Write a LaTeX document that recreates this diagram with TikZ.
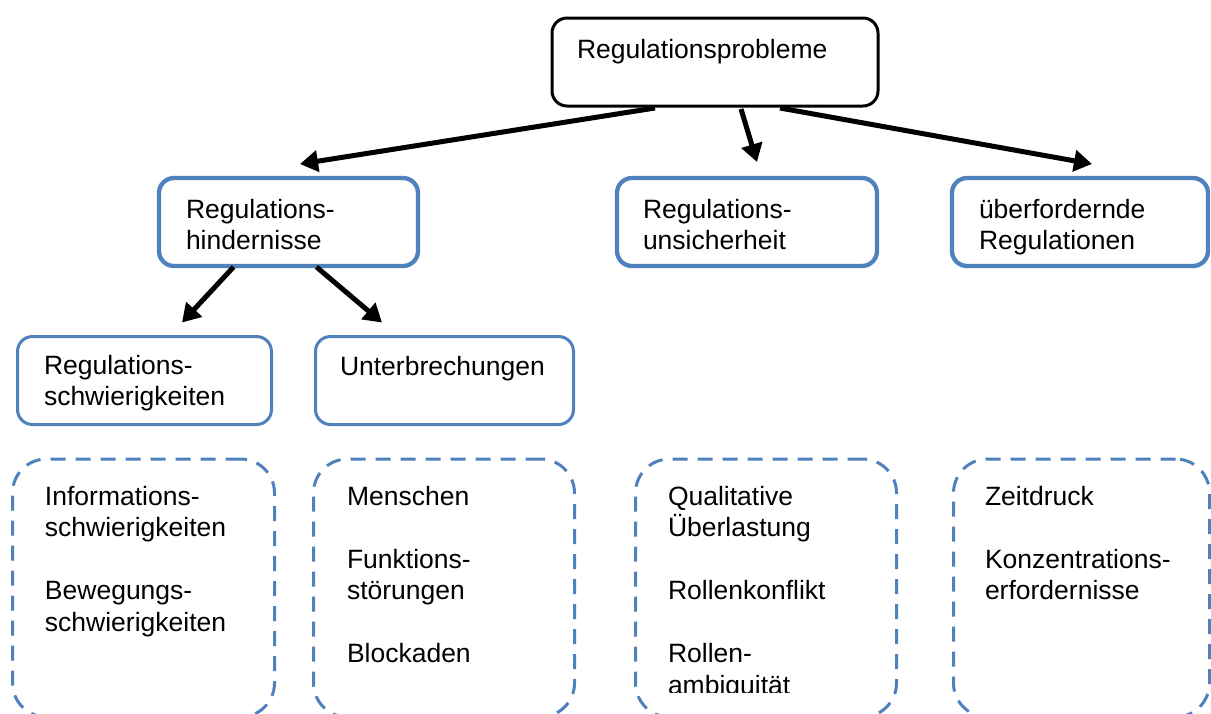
\documentclass[tikz,border=0pt]{standalone}
\usepackage{fontspec}
\setmainfont{Liberation Sans}
\usetikzlibrary{arrows.meta,calc}
\definecolor{boxblue}{HTML}{4F81BD}
\begin{document}
\begin{tikzpicture}[x=1pt,y=-1pt,
  every node/.style={inner sep=0pt,outer sep=0pt},
  boxbase/.style={rectangle,minimum height=88pt},
  topbox/.style={boxbase,draw=black,line width=3pt,rounded corners=15pt},
  midbox/.style={boxbase,draw=boxblue,line width=4.3pt,rounded corners=15pt},
  lowbox/.style={boxbase,draw=boxblue,line width=3pt,rounded corners=15pt},
  dashbox/.style={rectangle,draw=boxblue,line width=3pt,rounded corners=34pt,
     dash pattern=on 15pt off 10pt,minimum height=258pt},
  txt/.style={anchor=base west,align=left,
     font=\fontsize{26.5pt}{31.5pt}\selectfont},
  arr/.style={line width=5pt,-{Triangle[length=18pt,width=21pt]}}
]
\useasboundingbox (0,0) rectangle (1211,713);
\clip (0,0) rectangle (1211,713);
\fill[white] (0,0) rectangle (1211,713);

% boxes
\node[topbox,minimum width=326pt] (top) at (715,62) {};
\node[midbox,minimum width=259pt] (hind) at (288.5,222) {};
\node[midbox,minimum width=260pt] (unsi) at (747,222) {};
\node[midbox,minimum width=256pt] (ueber) at (1080,222) {};
\node[lowbox,minimum width=254pt] (schw) at (144.5,380.5) {};
\node[lowbox,minimum width=258pt] (unter) at (444.5,380.5) {};

\node[dashbox,minimum width=262pt] (d1) at (143.5,588) {};
\node[dashbox,minimum width=261pt] (d2) at (444,588) {};
\node[dashbox,minimum width=261pt] (d3) at (766,588) {};
\node[dashbox,minimum width=256pt] (d4) at (1081.5,588) {};

% texts (anchor = baseline of the last line)
\node[txt] (ttop) at (577,58) {Regulationsprobleme};
\node[txt] (thind) at (186,249.5) {Regulations-\\hindernisse};
\node[txt] (tunsi) at (643,249.5) {Regulations-\\unsicherheit};
\node[txt] (tueber) at (979,249.5) {überfordernde\\Regulationen};
\node[txt] (tschw) at (44,405.5) {Regulations-\\schwierigkeiten};
\node[txt] (tunter) at (340,375) {Unterbrechungen};

\node[txt] (td1) at (45,631) {Informations-\\schwierigkeiten\\[31.5pt]Bewegungs-\\schwierigkeiten};
\node[txt] (td2) at (347,662.5) {Menschen\\[31.5pt]Funktions-\\störungen\\[31.5pt]Blockaden};
\begin{scope}
\clip (600,440) rectangle (920,692.5);
\node[txt] (td3) at (668,694) {Qualitative\\Überlastung\\[31.5pt]Rollenkonflikt\\[31.5pt]Rollen-\\ambiguität};
\end{scope}
\node[txt] (td4) at (985,599.5) {Zeitdruck\\[31.5pt]Konzentrations-\\erfordernisse};

% arrows
\draw[arr] ([xshift=-60pt,yshift=-2pt]top.south) -- ([xshift=11.5pt,yshift=14pt]hind.north);
\draw[arr] ([xshift=26pt,yshift=-3pt]top.south) -- ([xshift=10pt,yshift=16pt]unsi.north);
\draw[arr] ([xshift=65pt,yshift=-2pt]top.south) -- ([xshift=12pt,yshift=14pt]ueber.north);
\draw[arr] ([xshift=-55pt,yshift=-1pt]hind.south) -- ([xshift=37.5pt,yshift=14pt]schw.north);
\draw[arr] ([xshift=28pt,yshift=-1pt]hind.south) -- ([xshift=-62.5pt,yshift=14pt]unter.north);
\end{tikzpicture}
\end{document}
